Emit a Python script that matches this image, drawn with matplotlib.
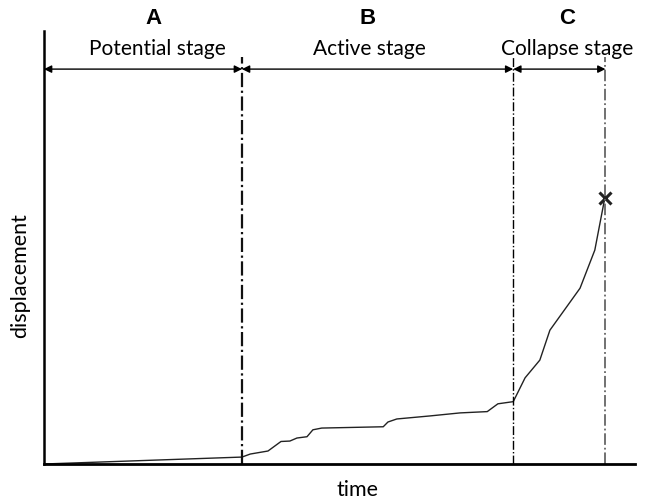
import numpy as np
import matplotlib
matplotlib.use('Agg')
import matplotlib.pyplot as plt

plt.rcParams['font.family'] = ['Lato', 'DejaVu Sans']

# displacement curve (arbitrary units)
t = [0, 33.5, 34.9, 37.9, 40.1, 41.6, 42.8, 44.5, 45.5, 47.0, 57.4, 58.2,
     59.7, 65.3, 70.4, 75.0, 76.8, 79.4, 81.4, 83.9, 85.6, 90.7, 93.2, 94.9]
disp = [0, 1.6, 2.3, 3.0, 5.2, 5.3, 6.0, 6.3, 7.9, 8.3, 8.6, 9.7,
        10.4, 11.1, 11.8, 12.1, 13.9, 14.4, 19.9, 24.0, 30.9, 40.6, 49.4, 61.5]

# stage boundaries and labels
bounds = [0, 33.5, 79.4, 95.0]
letters = ['A', 'B', 'C']
stages = ['Potential stage', 'Active stage', 'Collapse stage']
label_x = [19.1, 55.1, 88.5]
letter_x = [18.5, 54.8, 88.5]
vcolors = ['#111111', '#000000', '#666666']
vwidths = [1.6, 1.0, 1.3]

fig = plt.figure(figsize=(6.49, 5.01), dpi=100)
ax = fig.add_axes([44/649, 37/501, 591/649, 433/501])
ax.set_xlim(0, 100)
ax.set_ylim(0, 100)

ax.plot(t, disp, color='#222222', lw=1.0)
ax.plot(t[-1], disp[-1], marker='x', color='#222222', ms=9, mew=2.2)

for i in range(3):
    xv = bounds[i + 1]
    ax.plot([xv, xv], [0, 94], ls='-.', color=vcolors[i], lw=vwidths[i],
            clip_on=False)
    ax.annotate('', xy=(bounds[i], 91.2), xytext=(xv, 91.2),
                arrowprops=dict(arrowstyle='<|-|>', color='black', lw=1.0,
                                mutation_scale=11, shrinkA=0, shrinkB=0))
    ax.text(label_x[i], 95.8, stages[i], ha='center', va='center',
            fontsize=15)
    ax.text(letter_x[i], 103.0, letters[i], ha='center',
            va='center', fontsize=16, fontweight='bold',
            family='Liberation Sans', clip_on=False)

for s in ['top', 'right']:
    ax.spines[s].set_visible(False)
ax.spines['left'].set_linewidth(1.8)
ax.spines['bottom'].set_linewidth(2.0)
ax.set_xticks([])
ax.set_yticks([])
ax.set_xlabel('time', fontsize=15.5)
ax.set_ylabel('displacement', fontsize=15.5)
ax.xaxis.set_label_coords(0.531, -0.038)
ax.yaxis.set_label_coords(-0.024, 0.436)

fig.savefig('out.png', dpi=100)
